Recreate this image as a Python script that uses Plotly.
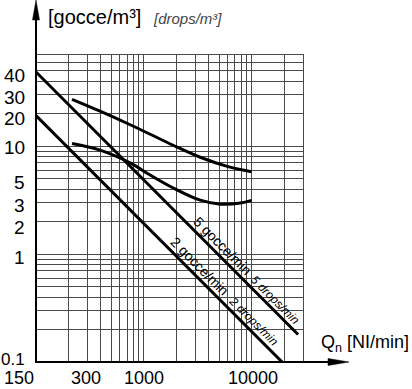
import numpy as np
import plotly.graph_objects as go

# ---------------- data ----------------
q_upper = [216, 393, 748, 1146, 1875, 3342, 5954, 10000]
d_upper = [27.2, 21.1, 15.8, 12.9, 10.2, 7.9, 6.5, 5.8]

q_lower = [216, 393, 748, 1146, 1875, 3342, 5130, 7870, 10000]
d_lower = [10.6, 9.2, 7.0, 5.4, 4.1, 3.16, 2.9, 2.97, 3.15]

q_5dpm = [100, 27000]
d_5dpm = [48.7, 0.18]

q_2dpm = [100, 19200]
d_2dpm = [19.2, 0.1]

x_tick_vals = [100, 300, 1000, 10000]
x_tick_text = ["150", "300", "1000", "10000"]
y_tick_vals = [40, 30, 20, 10, 5, 3, 2, 1, 0.1]
y_tick_text = ["40", "30", "20", "10", "5", "3", "2", "1", "0.1"]

x_grid = list(range(100, 1001, 100)) + list(range(2000, 10001, 1000)) + [20000, 30000]
y_grid = [round(0.1 * i, 1) for i in range(1, 11)] + list(range(2, 11)) + [20, 30, 40, 50, 60, 70]

# ---------------- geometry helpers (style only) ----------------
W, H = 412, 389
L, R, T, B = 36, 303, 55, 362


def px(x):
    return (x - L) / (R - L)


def py(y):
    return (B - y) / (B - T)


FONT = "Liberation Sans, Arial, sans-serif"
GRID = "#4a4a4a"

fig = go.Figure()

line_style = dict(color="black", width=3)
fig.add_trace(go.Scatter(x=q_5dpm, y=d_5dpm, mode="lines", line=line_style, hoverinfo="skip"))
fig.add_trace(go.Scatter(x=q_2dpm, y=d_2dpm, mode="lines", line=line_style, hoverinfo="skip"))
fig.add_trace(go.Scatter(x=q_upper, y=d_upper, mode="lines",
                         line=dict(color="black", width=3, shape="spline", smoothing=1.0), hoverinfo="skip"))
fig.add_trace(go.Scatter(x=q_lower, y=d_lower, mode="lines",
                         line=dict(color="black", width=3, shape="spline", smoothing=1.0), hoverinfo="skip"))

annotations = []

# tick labels
x_shift = {"150": -17, "300": -1, "1000": 0, "10000": 1}
for v, t in zip(x_tick_vals, x_tick_text):
    annotations.append(dict(x=np.log10(v), xref="x", y=py(378), yref="paper", text=t,
                            showarrow=False, xanchor="center", yanchor="middle", borderpad=0,
                            xshift=x_shift[t], font=dict(family=FONT, size=18, color="black")))

y_shift = {"40": 6, "30": -3, "20": -5, "10": -1, "5": -4, "3": -3, "2": -6, "1": -3, "0.1": 3}
y_size = {"0.1": 17}
for v, t in zip(y_tick_vals, y_tick_text):
    annotations.append(dict(x=px(26), xref="paper", y=np.log10(v), yref="y", text=t,
                            showarrow=False, xanchor="right", yanchor="middle", borderpad=0,
                            yshift=y_shift[t], font=dict(family=FONT, size=y_size.get(t, 19), color="black")))


# line labels along the straight lines (offset perpendicular, towards upper right)
def on_line(q, qs, ds):
    return np.interp(np.log10(q), np.log10(qs), np.log10(ds))


labels = [
    ("5 gocce/min", 4700, q_5dpm, d_5dpm, 9.5, 14, False),
    ("5 drops/min", 14600, q_5dpm, d_5dpm, 8.5, 12, True),
    ("2 gocce/min", 2850, q_2dpm, d_2dpm, 9.5, 14, False),
    ("2 drops/min", 9100, q_2dpm, d_2dpm, 9, 12, True),
]
for text, q, qs, ds, off, size, ital in labels:
    d = off / np.sqrt(2)
    annotations.append(dict(x=np.log10(q), y=on_line(q, qs, ds), xref="x", yref="y",
                            text=("<i>%s</i>" % text) if ital else text, textangle=45,
                            showarrow=False, xshift=d, yshift=d, xanchor="center", yanchor="middle",
                            font=dict(family=FONT, size=size, color="black")))

# axis titles
annotations.append(dict(x=px(94), y=py(17), xref="paper", yref="paper", text="[gocce/m³]",
                        xanchor="center", yanchor="middle",
                        showarrow=False, font=dict(family=FONT, size=20, color="black")))
annotations.append(dict(x=px(187), y=py(18.5), xref="paper", yref="paper", text="<i>[drops/m³]</i>",
                        xanchor="center", yanchor="middle",
                        showarrow=False, font=dict(family=FONT, size=15, color="#444")))
annotations.append(dict(x=px(411), y=py(343), xref="paper", yref="paper",
                        text="Q<sub>n</sub> [NI/min]", xanchor="right", yanchor="middle",
                        showarrow=False, font=dict(family=FONT, size=18, color="black")))


# axis lines with arrows
def path(points):
    return "M " + " L ".join("%f,%f" % (px(a), py(b)) for a, b in points) + " Z"


shapes = [
    dict(type="line", xref="paper", yref="paper", x0=0, x1=0, y0=py(B + 0.5), y1=py(12),
         line=dict(color="black", width=2), layer="above"),
    dict(type="path", xref="paper", yref="paper", path=path([(36, 0), (32.5, 20), (39.5, 20)]),
         fillcolor="black", line=dict(color="black", width=0.5), layer="above"),
    dict(type="line", xref="paper", yref="paper", x0=px(L - 1), x1=px(335), y0=0, y1=0,
         line=dict(color="black", width=2), layer="above"),
    dict(type="path", xref="paper", yref="paper", path=path([(349, 362), (328, 358.5), (328, 365.5)]),
         fillcolor="black", line=dict(color="black", width=0.5), layer="above"),
]

fig.update_layout(
    width=W, height=H,
    margin=dict(l=L, r=W - R, t=T, b=H - B, pad=0),
    paper_bgcolor="white", plot_bgcolor="white",
    showlegend=False,
    annotations=annotations,
    shapes=shapes,
    xaxis=dict(type="log", range=[2, np.log10(30000)], tickvals=x_grid, showticklabels=False,
               ticks="", showgrid=True, gridcolor=GRID, gridwidth=1, zeroline=False,
               showline=True, linecolor=GRID, linewidth=1, mirror=True, fixedrange=True),
    yaxis=dict(type="log", range=[-1, np.log10(70)], tickvals=y_grid, showticklabels=False,
               ticks="", showgrid=True, gridcolor=GRID, gridwidth=1, zeroline=False,
               showline=True, linecolor=GRID, linewidth=1, mirror=True, fixedrange=True),
)

fig.write_html("out.html", config={"displayModeBar": False, "staticPlot": True},
               post_script="document.body.style.margin='0';document.body.style.overflow='hidden';")
